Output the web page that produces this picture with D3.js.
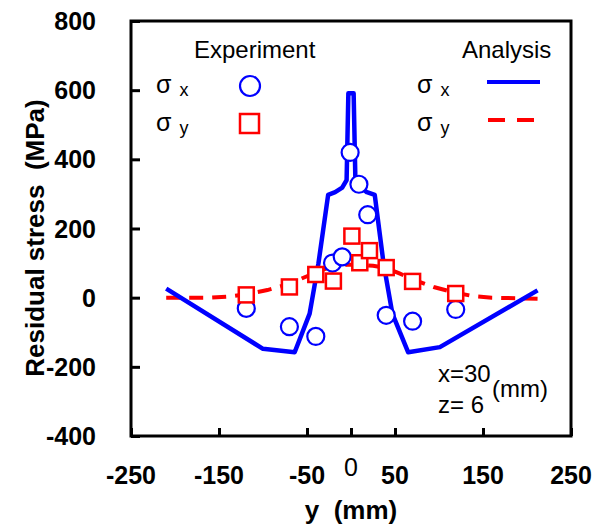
<!DOCTYPE html>
<meta charset="utf-8">
<head lang="en">
    <title>Residual stress</title>
    <script type="text/javascript" src="https://cdn.jsdelivr.net/npm/d3@7/dist/d3.min.js"></script>
    <style type="text/css">
        body { margin: 0; background: #fff; }
        svg { font-family: "Liberation Sans", Arial, sans-serif; }
        .frame { fill: none; stroke: #000; stroke-width: 3; }
        .fem-sx { fill: none; stroke: #0000ff; stroke-width: 4.5; stroke-linejoin: round; }
        .fem-sy { fill: none; stroke: #ff0000; stroke-width: 4; stroke-dasharray: 14,9; }
        .exp-sx { fill: #fff; stroke: #0000ff; stroke-width: 2.2; }
        .exp-sy { fill: #fff; stroke: #ff0000; stroke-width: 2.5; }
        .tick-lbl { font-size: 25px; font-weight: bold; }
    </style>
</head>
<body>
<script type="text/javascript">

    // analysis (FEM) sigma x
    var femX_y = [-210, -100, -64, -47, -37, -26, -18, -10, -5, -3, 3, 5, 10, 18, 27, 37, 47, 65, 101, 212];
    var femX_s = [26, -148, -158, -46, 99, 297, 305, 318, 340, 591, 591, 340, 322, 305, 297, 99, -46, -158, -143, 21];

    // analysis (FEM) sigma y
    var femY_y = [-210, -160, -140, -119, -95, -70, -50, -38, -20, -5, 10, 25, 40, 55, 70, 95, 119, 140, 160, 212];
    var femY_s = [0, 0, 3, 10, 22, 40, 62, 77, 90, 95, 95, 92, 86, 70, 53, 30, 14, 4, 0, -3];

    // experiment sigma x (circles)
    var expX_y = [-119, -70, -40, -21, -10, -1, 9, 19, 40, 70, 119];
    var expX_s = [-31, -84, -112, 100, 118, 420, 328, 240, -51, -68, -34];

    // experiment sigma y (squares)
    var expY_y = [-119, -70, -40, -20, 1, 10, 21, 40, 70, 119];
    var expY_s = [8, 31, 67, 48, 178, 101, 136, 87, 47, 12];

    var xTicks = [-250, -150, -50, 0, 50, 150, 250];
    var yTicks = [-400, -200, 0, 200, 400, 600, 800];

    var width = 603, height = 527;
    var plot = {left: 131, right: 571, top: 21, bottom: 436};

    var svg = d3.select("body").append("svg")
        .attr("width", width)
        .attr("height", height);

    var x = d3.scaleLinear().domain([-250, 250]).range([plot.left, plot.right]);
    var y = d3.scaleLinear().domain([-400, 800]).range([plot.bottom, plot.top]);

    // inner ticks
    var xAxis = d3.axisTop(x).tickValues(xTicks).tickSize(8).tickFormat("");
    var yAxis = d3.axisRight(y).tickValues(yTicks).tickSize(9).tickFormat("");
    svg.append("g")
        .attr("transform", "translate(0," + plot.bottom + ")")
        .call(xAxis)
        .call(function(g) { g.select(".domain").remove(); })
        .selectAll("line").attr("stroke", "#000").attr("stroke-width", 3);
    svg.append("g")
        .attr("transform", "translate(" + plot.left + ",0)")
        .call(yAxis)
        .call(function(g) { g.select(".domain").remove(); })
        .selectAll("line").attr("stroke", "#000").attr("stroke-width", 3);

    // tick labels
    svg.selectAll(".xlbl")
        .data(xTicks)
        .enter().append("text")
        .attr("class", "tick-lbl")
        .attr("x", function(d) { return x(d); })
        .attr("y", function(d) { return d === 0 ? 476 : 484; })
        .attr("text-anchor", "middle")
        .style("font-weight", function(d) { return d === 0 ? "normal" : "bold"; })
        .text(function(d) { return d; });

    svg.selectAll(".ylbl")
        .data(yTicks)
        .enter().append("text")
        .attr("class", "tick-lbl")
        .attr("x", 96)
        .attr("y", function(d) { return y(d) + 9; })
        .attr("text-anchor", "end")
        .text(function(d) { return d; });

    // axis titles
    svg.append("text")
        .attr("x", x(0))
        .attr("y", 519)
        .attr("text-anchor", "middle")
        .attr("font-size", "26px")
        .attr("font-weight", "bold")
        .attr("xml:space", "preserve")
        .text("y  (mm)");
    svg.append("text")
        .attr("transform", "translate(44,238) rotate(-90)")
        .attr("text-anchor", "middle")
        .attr("font-size", "26px")
        .attr("font-weight", "bold")
        .attr("xml:space", "preserve")
        .text("Residual stress  (MPa)");

    // analysis lines
    var line = d3.line()
        .x(function(d) { return x(d[0]); })
        .y(function(d) { return y(d[1]); });

    svg.append("path")
        .attr("class", "fem-sy")
        .attr("d", line(d3.zip(femY_y, femY_s)));
    svg.append("path")
        .attr("class", "fem-sx")
        .attr("d", line(d3.zip(femX_y, femX_s)));

    // experiment markers
    svg.selectAll(".cx")
        .data(d3.zip(expX_y, expX_s))
        .enter().append("circle")
        .attr("class", "exp-sx")
        .attr("cx", function(d) { return x(d[0]); })
        .attr("cy", function(d) { return y(d[1]); })
        .attr("r", 8.5);

    var sq = 15;
    svg.selectAll(".sy")
        .data(d3.zip(expY_y, expY_s))
        .enter().append("rect")
        .attr("class", "exp-sy")
        .attr("x", function(d) { return x(d[0]) - sq / 2; })
        .attr("y", function(d) { return y(d[1]) - sq / 2; })
        .attr("width", sq)
        .attr("height", sq);

    // frame
    svg.append("rect")
        .attr("class", "frame")
        .attr("x", plot.left)
        .attr("y", plot.top)
        .attr("width", plot.right - plot.left)
        .attr("height", plot.bottom - plot.top);

    // legend
    function sigma(g, tx, ty, sub) {
        var t = g.append("text").attr("x", tx).attr("y", ty).attr("font-size", "25px");
        t.append("tspan").text("σ");
        t.append("tspan").attr("dx", 8).attr("dy", 3).attr("font-size", "18px").text(sub);
    }
    var lg = svg.append("g");
    lg.append("text").attr("x", 194).attr("y", 58).attr("font-size", "24px").text("Experiment");
    lg.append("text").attr("x", 462).attr("y", 58).attr("font-size", "24px").text("Analysis");
    sigma(lg, 156, 93, "x");
    sigma(lg, 156, 131, "y");
    sigma(lg, 417, 93, "x");
    sigma(lg, 417, 131, "y");
    lg.append("circle").attr("class", "exp-sx").attr("cx", 250).attr("cy", 86).attr("r", 10).attr("stroke-width", 2.5);
    lg.append("rect").attr("class", "exp-sy").attr("x", 240).attr("y", 114).attr("width", 19).attr("height", 19).attr("stroke-width", 3);
    lg.append("line").attr("x1", 487).attr("x2", 540).attr("y1", 82).attr("y2", 82)
        .attr("stroke", "#0000ff").attr("stroke-width", 4);
    lg.append("line").attr("x1", 488).attr("x2", 534).attr("y1", 120).attr("y2", 120)
        .attr("stroke", "#ff0000").attr("stroke-width", 4).attr("stroke-dasharray", "17,12");

    // annotation
    svg.append("text").attr("x", 438).attr("y", 382).attr("font-size", "24px").text("x=30");
    svg.append("text").attr("x", 438).attr("y", 413).attr("font-size", "24px").attr("xml:space", "preserve").text("z= 6");
    svg.append("text").attr("x", 492).attr("y", 397).attr("font-size", "24px").text("(mm)");

</script>
</body>
